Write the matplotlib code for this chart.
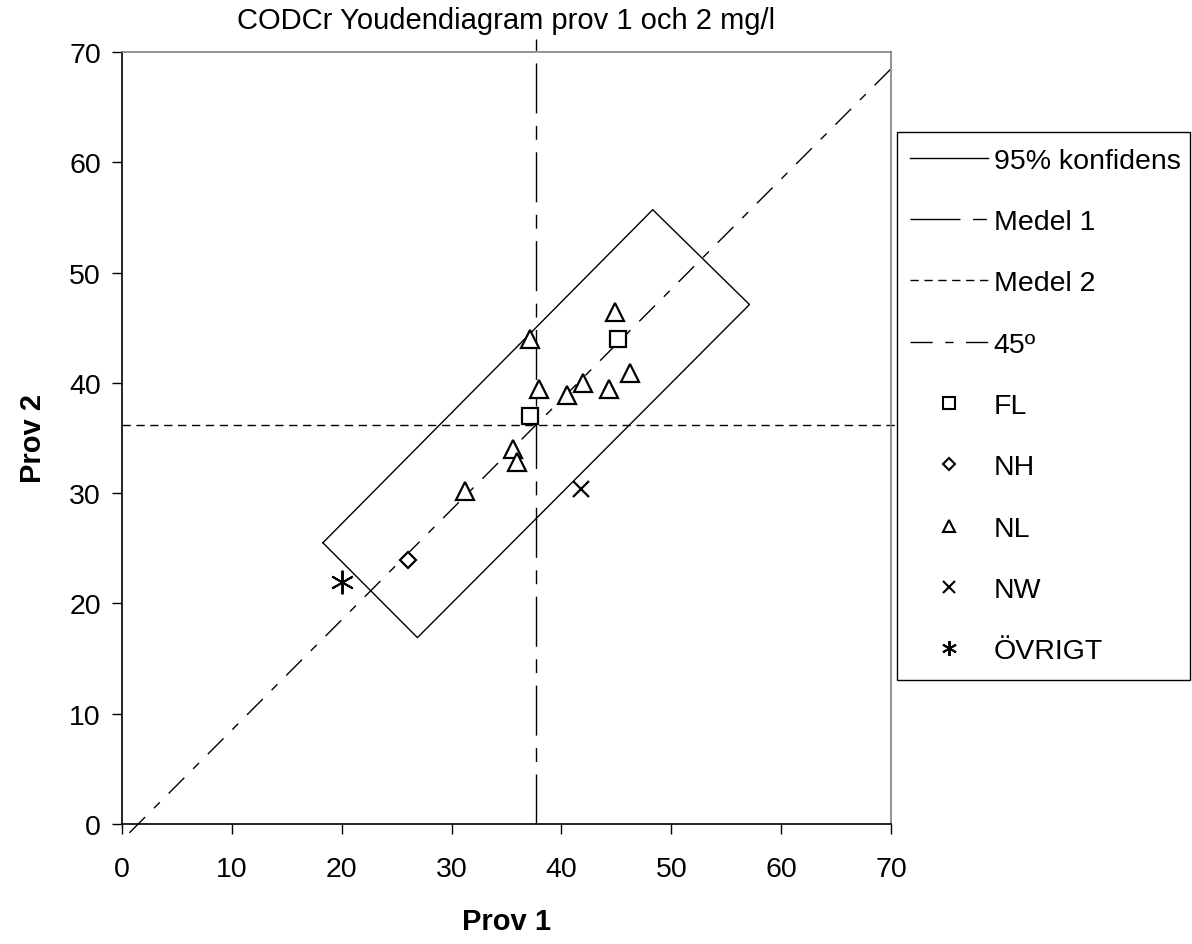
import matplotlib
matplotlib.use("Agg")
import matplotlib.pyplot as plt
from matplotlib.lines import Line2D
from matplotlib.patches import Rectangle

plt.rcParams['font.family'] = ['Liberation Sans', 'DejaVu Sans']
plt.rcParams['lines.scale_dashes'] = False

title = "CODCr Youdendiagram prov 1 och 2 mg/l"
xlabel = "Prov 1"
ylabel = "Prov 2"
ticks = [0, 10, 20, 30, 40, 50, 60, 70]

# Confidence rectangle corners (Prov 1, Prov 2)
conf_x = [18.3, 48.3, 57.1, 26.9, 18.3]
conf_y = [25.5, 55.7, 47.1, 16.9, 25.5]

medel1 = 37.7
medel2 = 36.2
line45_x = [0.7, 70.0]
line45_y = [-0.8, 68.5]

fl_x = [37.1, 45.1]
fl_y = [37.0, 44.0]
nh_x = [26.0]
nh_y = [23.9]
nl_x = [37.1, 44.9, 46.2, 38.0, 40.5, 42.0, 44.3, 35.6, 36.0, 31.2]
nl_y = [44.0, 46.4, 40.9, 39.4, 38.9, 40.0, 39.4, 34.0, 32.8, 30.2]
nw_x = [41.8]
nw_y = [30.4]
ov_x = [20.0]
ov_y = [21.9]

W, H = 1192, 945
fig = plt.figure(figsize=(W / 100, H / 100), dpi=100)
ax = fig.add_axes([121.7 / W, 1 - 825 / H, (891.3 - 121.7) / W, (825 - 53) / H])
ax.set_xlim(0, 70)
ax.set_ylim(0, 70)

lw = 1.0
ls_medel1 = (0, (36, 9, 10, 9))
ls_medel2 = (0, (6, 4))
ls_45 = (0, (16, 9, 6, 9))

ax.plot(conf_x, conf_y, color='black', lw=lw)
ax.plot([medel1, medel1], [0, 71.2], color='black', lw=lw, linestyle=ls_medel1, clip_on=False)
ax.plot([0, 70.5], [medel2, medel2], color='black', lw=lw, linestyle=ls_medel2, clip_on=False)
ax.plot(line45_x, line45_y, color='black', lw=lw, linestyle=ls_45, clip_on=False)

ms = 11
mew = 1.6
ax.plot(fl_x, fl_y, ls='none', marker='s', ms=ms, mfc='white', mec='black', mew=mew, zorder=5)
ax.plot(nh_x, nh_y, ls='none', marker='D', ms=ms * 0.75, mfc='white', mec='black', mew=mew, zorder=5)
ax.plot(nl_x, nl_y, ls='none', marker='^', ms=ms * 1.15, mfc='white', mec='black', mew=mew, zorder=5)
ax.plot(nw_x, nw_y, ls='none', marker='x', ms=ms * 1.1, mec='black', mew=mew, zorder=5)
ax.plot(ov_x, ov_y, ls='none', marker=(6, 2, 0), ms=ms * 1.55, mec='black', mew=1.4, zorder=5)

ax.set_xticks(ticks)
ax.set_yticks(ticks)
ax.tick_params(direction='out', length=7, width=1, labelsize=20.5, pad=16, colors='black')
ax.tick_params(axis='y', pad=8)
for s in ['left', 'bottom']:
    ax.spines[s].set_color('black')
    ax.spines[s].set_linewidth(1.2)
for s in ['top', 'right']:
    ax.spines[s].set_color('#808080')
    ax.spines[s].set_linewidth(1.2)

ax.set_title(title, fontsize=21, pad=17)
ax.set_xlabel(xlabel, fontsize=21, fontweight='bold', labelpad=18)
ax.set_ylabel(ylabel, fontsize=21, fontweight='bold', labelpad=16)

lms = 8
handles = [
    Line2D([], [], color='black', lw=lw),
    Line2D([], [], color='black', lw=lw, linestyle=(0, (36, 9, 10, 9))),
    Line2D([], [], color='black', lw=lw, linestyle=(0, (6, 4))),
    Line2D([], [], color='black', lw=lw, linestyle=(0, (16, 9, 6, 9))),
    Line2D([], [], ls='none', marker='s', ms=lms, mfc='white', mec='black', mew=1.5),
    Line2D([], [], ls='none', marker='D', ms=lms * 0.75, mfc='white', mec='black', mew=1.5),
    Line2D([], [], ls='none', marker='^', ms=lms, mfc='white', mec='black', mew=1.5),
    Line2D([], [], ls='none', marker='x', ms=lms, mec='black', mew=1.5),
    Line2D([], [], ls='none', marker=(6, 2, 0), ms=lms * 1.35, mec='black', mew=1.4),
]
labels = ['95% konfidens', 'Medel 1', 'Medel 2', '45º', 'FL', 'NH', 'NL', 'NW', 'ÖVRIGT']
leg = fig.legend(handles, labels, loc='upper left',
                 bbox_to_anchor=(897 / W, 1 - 136 / H),
                 fontsize=20.5, frameon=False,
                 labelspacing=1.24, handlelength=2.75, handletextpad=0.2,
                 borderpad=0.45, borderaxespad=0)
fig.patches.append(Rectangle((897 / W, 1 - 681 / H), (1190 - 897) / W, (681 - 133) / H,
                             transform=fig.transFigure, fill=False,
                             edgecolor='black', linewidth=1.0))

fig.savefig('out.png', dpi=100)
